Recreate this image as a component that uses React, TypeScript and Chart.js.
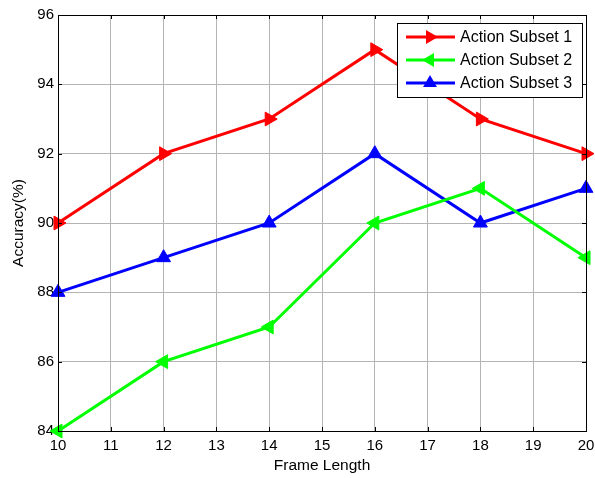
import React, { useEffect, useRef } from 'react';
import { Chart, registerables } from 'chart.js';
Chart.register(...registerables);

const frameLengths = [10, 12, 14, 16, 18, 20];
const subset1 = [90, 92, 93, 95, 93, 92];
const subset2 = [84, 86, 87, 90, 91, 89];
const subset3 = [88, 89, 90, 92, 90, 91];
const seriesLabels = ['Action Subset 1', 'Action Subset 2', 'Action Subset 3'];
const seriesColors = ['#ff0000', '#00ff00', '#0000ff'];
const seriesRotations = [90, -90, 0];
const xAxisTitle = 'Frame Length';
const yAxisTitle = 'Accuracy(%)';
const xMin = 10, xMax = 20, xStep = 1;
const yMin = 84, yMax = 96, yStep = 2;

const FONT = '"Liberation Sans", Arial, Helvetica, sans-serif';

const framePlugin = {
  id: 'framePlugin',
  afterDraw(chart: any) {
    const { ctx, chartArea: a } = chart;
    const xs = chart.scales.x, ys = chart.scales.y;
    ctx.save();
    ctx.strokeStyle = '#000';
    ctx.lineWidth = 1;
    ctx.beginPath();
    for (let v = xMin; v <= xMax; v += xStep) {
      const px = Math.round(xs.getPixelForValue(v)) + 0.5;
      ctx.moveTo(px, a.bottom); ctx.lineTo(px, a.bottom - 4);
      ctx.moveTo(px, a.top); ctx.lineTo(px, a.top + 4);
    }
    for (let v = yMin; v <= yMax; v += yStep) {
      const py = Math.round(ys.getPixelForValue(v)) + 0.5;
      ctx.moveTo(a.left, py); ctx.lineTo(a.left + 4, py);
      ctx.moveTo(a.right, py); ctx.lineTo(a.right - 4, py);
    }
    ctx.stroke();
    ctx.strokeRect(Math.round(a.left) + 0.5, Math.round(a.top) + 0.5, Math.round(a.right - a.left), Math.round(a.bottom - a.top));
    // legend
    const lx = 397, ly = 23, lw = 185, lh = 74;
    ctx.fillStyle = '#fff';
    ctx.fillRect(lx, ly, lw, lh);
    ctx.strokeRect(lx + 0.5, ly + 0.5, lw, lh);
    ctx.font = `16px ${FONT}`;
    ctx.textBaseline = 'middle';
    seriesLabels.forEach((lab, i) => {
      const y = 37 + i * 23;
      ctx.strokeStyle = seriesColors[i];
      ctx.lineWidth = 3;
      ctx.beginPath(); ctx.moveTo(406, y); ctx.lineTo(455, y); ctx.stroke();
      ctx.fillStyle = seriesColors[i];
      ctx.save();
      ctx.translate(430, y);
      ctx.rotate((seriesRotations[i] * Math.PI) / 180);
      const r = 8;
      ctx.beginPath();
      ctx.moveTo(0, -r);
      ctx.lineTo(r * 0.866, r * 0.5);
      ctx.lineTo(-r * 0.866, r * 0.5);
      ctx.closePath();
      ctx.fill();
      ctx.restore();
      ctx.fillStyle = '#000';
      ctx.fillText(lab, 460, y + 1);
    });
    ctx.restore();
  },
};

export default function App() {
  const ref = useRef<HTMLCanvasElement>(null);
  useEffect(() => {
    document.body.style.margin = '0';
    const series = [subset1, subset2, subset3];
    const chart = new Chart(ref.current!, {
      type: 'line',
      data: {
        datasets: series.map((s, i) => ({
          label: seriesLabels[i],
          data: s.map((v, j) => ({ x: frameLengths[j], y: v })),
          borderColor: seriesColors[i],
          backgroundColor: seriesColors[i],
          borderWidth: 3,
          pointStyle: 'triangle',
          pointRotation: seriesRotations[i],
          pointRadius: 8,
          pointBorderWidth: 1,
          pointBackgroundColor: seriesColors[i],
          tension: 0,
          clip: false as any,
        })),
      },
      options: {
        animation: false,
        responsive: false,
        devicePixelRatio: 1,
        layout: { padding: { top: 15, right: 9, left: 0, bottom: 0 } },
        plugins: { legend: { display: false }, tooltip: { enabled: false } },
        scales: {
          x: {
            type: 'linear',
            min: xMin,
            max: xMax,
            ticks: { stepSize: xStep, color: '#000', font: { family: FONT, size: 15 }, padding: 6, maxRotation: 0 },
            grid: { color: '#b4b4b4', drawTicks: false, lineWidth: 1 },
            border: { color: '#000', width: 1 },
            title: { display: true, text: xAxisTitle, color: '#000', font: { family: FONT, size: 15.5 }, padding: { top: 2, bottom: 3 } },
            afterFit: (s: any) => { s.height = 47; s.paddingRight = 0; s.paddingLeft = 0; },
          },
          y: {
            min: yMin,
            max: yMax,
            ticks: { stepSize: yStep, color: '#000', font: { family: FONT, size: 15 }, padding: 4 },
            grid: { color: '#b4b4b4', drawTicks: false, lineWidth: 1 },
            border: { color: '#000', width: 1 },
            title: { display: true, text: yAxisTitle, color: '#000', font: { family: FONT, size: 15.5 }, padding: { top: 9, bottom: 6 } },
            afterFit: (s: any) => { s.width = 58; s.paddingTop = 0; s.paddingBottom = 0; },
          },
        },
      },
      plugins: [framePlugin],
    });
    return () => chart.destroy();
  }, []);
  return <canvas ref={ref} width={595} height={478} style={{ display: 'block' }} />;
}
